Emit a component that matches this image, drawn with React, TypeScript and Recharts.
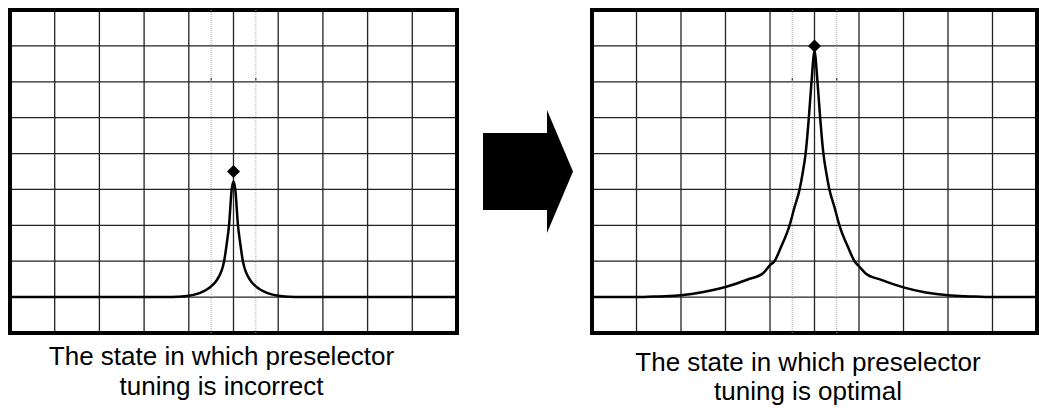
import React from "react";
import {
  ComposedChart, Line, XAxis, YAxis, CartesianGrid, ReferenceLine, ReferenceDot, ReferenceArea,
} from "recharts";

// screen grid: 10 horizontal divisions, 9 vertical divisions
const xTicks = [-5, -4, -3, -2, -1, 0, 1, 2, 3, 4, 5];
const yTicks = [0, 1, 2, 3, 4, 5, 6, 7, 8, 9];
const centerMarks = [-0.5, 0.5];

// trace, x in divisions from centre, y in divisions from bottom
const incorrectX = [-5, -4, -3, -2, -1.5, -1.25, -1, -0.75, -0.5, -0.37, -0.21, -0.15, -0.1, -0.04, 0, 0.04, 0.1, 0.15, 0.21, 0.37, 0.5, 0.75, 1, 1.25, 1.5, 2, 3, 4, 5];
const incorrectY = [1, 1, 1, 1, 1, 1.01, 1.04, 1.12, 1.3, 1.48, 2, 2.5, 3, 4, 4.22, 4, 3, 2.5, 2, 1.48, 1.3, 1.12, 1.04, 1.01, 1, 1, 1, 1, 1];
const incorrectMarker = 4.5;

const optimalX = [-5, -4, -3.5, -3, -2.5, -2, -1.5, -1.15, -1, -0.9, -0.75, -0.56, -0.45, -0.335, -0.26, -0.2, -0.127, -0.067, 0, 0.067, 0.127, 0.2, 0.26, 0.335, 0.45, 0.56, 0.75, 0.9, 1, 1.15, 1.5, 2, 2.5, 3, 3.5, 4, 5];
const optimalY = [1, 1, 1.02, 1.05, 1.14, 1.28, 1.49, 1.67, 1.89, 2, 2.4, 3, 3.5, 4, 4.5, 5, 6, 7, 7.85, 7, 6, 5, 4.5, 4, 3.5, 3, 2.4, 2, 1.86, 1.66, 1.48, 1.27, 1.13, 1.05, 1.02, 1, 1];
const optimalMarker = 8;

const captionIncorrect = ["The state in which preselector", "tuning is incorrect"];
const captionOptimal = ["The state in which preselector", "tuning is optimal"];

const toRows = (xs: number[], ys: number[]) => xs.map((x, i) => ({ x, y: ys[i] }));

const Diamond = (props: any) => {
  const { cx, cy } = props;
  const r = 6.5;
  return <polygon points={`${cx},${cy - r} ${cx + r},${cy} ${cx},${cy + r} ${cx - r},${cy}`} fill="#000" />;
};

function Screen({ data, marker, margin, width }: { data: { x: number; y: number }[]; marker: number; margin: any; width: number }) {
  return (
    <ComposedChart width={width} height={345} data={data} margin={margin}>
      <XAxis type="number" dataKey="x" domain={[-5, 5]} ticks={xTicks} hide />
      <YAxis type="number" domain={[0, 9]} ticks={yTicks} hide />
      <CartesianGrid stroke="#222" strokeWidth={1.3} />
      {centerMarks.map((m) => (
        <ReferenceLine key={m} x={m} stroke="#aaa" strokeDasharray="1 1" />
      ))}
      {centerMarks.map((m) => (
        <ReferenceLine key={"t" + m} segment={[{ x: m, y: 7.04 }, { x: m, y: 7.1 }]} stroke="#000" strokeWidth={1} />
      ))}
      <Line type="monotone" dataKey="y" stroke="#000" strokeWidth={2.5} dot={false} isAnimationActive={false} />
      <ReferenceDot x={0} y={marker} shape={Diamond} />
      <ReferenceArea x1={-5} x2={5} y1={0} y2={9} fill="none" stroke="#000" strokeWidth={4} />
    </ComposedChart>
  );
}

export default function App() {
  const font = "'Liberation Sans', Arial, sans-serif";
  return (
    <div style={{ position: "absolute", left: 0, top: 0, width: 1039, height: 408, background: "#fff", overflow: "hidden" }}>
      <div style={{ position: "absolute", left: 0, top: 0 }}>
        <Screen data={toRows(incorrectX, incorrectY)} marker={incorrectMarker} width={470} margin={{ top: 10, left: 10, right: 13, bottom: 12 }} />
      </div>
      <div style={{ position: "absolute", left: 580, top: 0 }}>
        <Screen data={toRows(optimalX, optimalY)} marker={optimalMarker} width={459} margin={{ top: 10, left: 12, right: 2, bottom: 12 }} />
      </div>
      <svg width={1039} height={408} style={{ position: "absolute", left: 0, top: 0, pointerEvents: "none" }}>
        <polygon points="483,133 547,133 547,110 573,171.5 547,233 547,210 483,210" fill="#000" />
        <g fontFamily={font} fontSize={26} fill="#000" textAnchor="middle">
          <text x={221.5} y={365}>{captionIncorrect[0]}</text>
          <text x={221.5} y={395}>{captionIncorrect[1]}</text>
          <text x={808} y={371}>{captionOptimal[0]}</text>
          <text x={808} y={400}>{captionOptimal[1]}</text>
        </g>
      </svg>
    </div>
  );
}
